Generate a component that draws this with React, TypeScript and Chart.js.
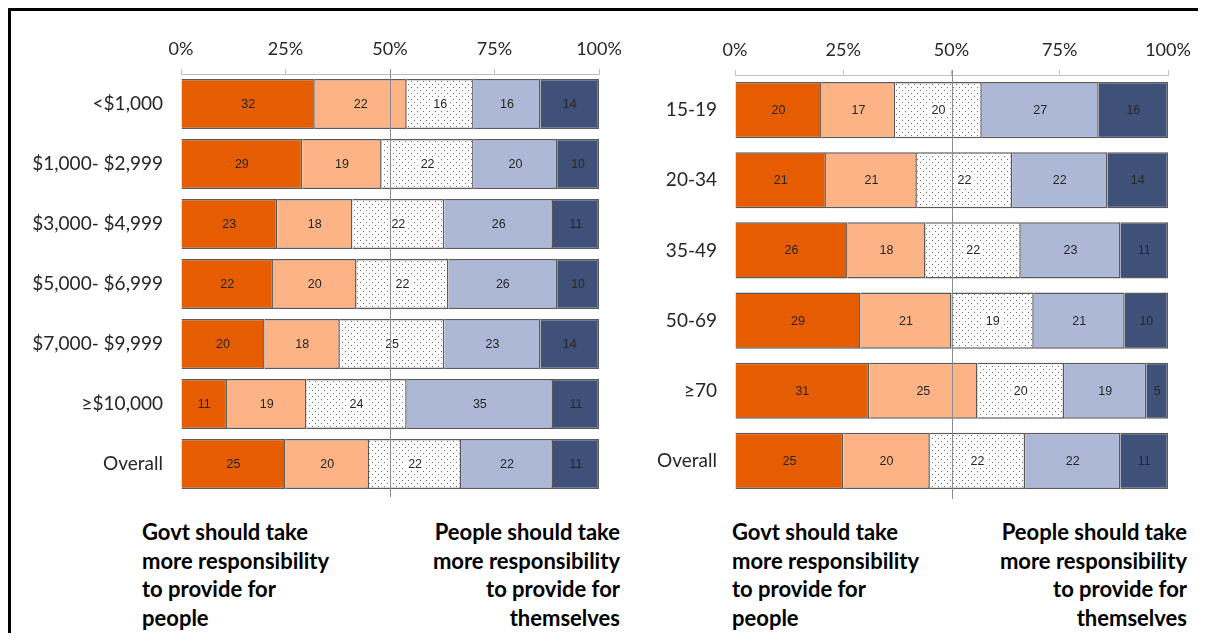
import React, { useEffect, useRef } from "react";
import { Chart, registerables } from "chart.js";

Chart.register(...registerables);

// Household income groups
const incomeLabels = ["<$1,000", "$1,000- $2,999", "$3,000- $4,999", "$5,000- $6,999", "$7,000- $9,999", "≥$10,000", "Overall"];
const incomeGovtMuch = [32, 29, 23, 22, 20, 11, 25];
const incomeGovtSome = [22, 19, 18, 20, 18, 19, 20];
const incomeNeutral = [16, 22, 22, 22, 25, 24, 22];
const incomePeopleSome = [16, 20, 26, 26, 23, 35, 22];
const incomePeopleMuch = [14, 10, 11, 10, 14, 11, 11];

// Age groups
const ageLabels = ["15-19", "20-34", "35-49", "50-69", "≥70", "Overall"];
const ageGovtMuch = [20, 21, 26, 29, 31, 25];
const ageGovtSome = [17, 21, 18, 21, 25, 20];
const ageNeutral = [20, 22, 22, 19, 20, 22];
const agePeopleSome = [27, 22, 23, 21, 19, 22];
const agePeopleMuch = [16, 14, 11, 10, 5, 11];

const xTicks = [0, 25, 50, 75, 100];

const LABEL_FONT = "Lato, 'Open Sans', sans-serif";

function makeDotPattern(): CanvasPattern | string {
  const tile = document.createElement("canvas");
  tile.width = 6;
  tile.height = 6;
  const c = tile.getContext("2d");
  if (!c) return "#ffffff";
  c.fillStyle = "#ffffff";
  c.fillRect(0, 0, 6, 6);
  c.fillStyle = "#6b6b6b";
  c.fillRect(1, 1, 1, 1);
  c.fillRect(4, 4, 1, 1);
  const ctx = document.createElement("canvas").getContext("2d");
  return (ctx && ctx.createPattern(tile, "repeat")) || "#ffffff";
}

const valueLabelPlugin = {
  id: "valueLabels",
  afterDatasetsDraw(chart: any) {
    const ctx = chart.ctx;
    ctx.save();
    ctx.font = "12.5px 'Liberation Sans', Arial, sans-serif";
    ctx.textAlign = "center";
    ctx.textBaseline = "middle";
    chart.data.datasets.forEach((ds: any, di: number) => {
      const meta = chart.getDatasetMeta(di);
      meta.data.forEach((el: any, i: number) => {
        const v = ds.data[i];
        const cx = (el.x + el.base) / 2;
        const cy = el.y;
        const txt = String(v);
        if (ds.clearBehindLabel) {
          const w = ctx.measureText(txt).width + 6;
          ctx.fillStyle = "#ffffff";
          ctx.fillRect(cx - w / 2, cy - 7, w, 14);
        }
        ctx.fillStyle = "#262626";
        ctx.fillText(txt, cx, cy + 0.5);
      });
    });
    ctx.restore();
  },
};

const midLinePlugin = {
  id: "midLine",
  afterDraw(chart: any) {
    const ctx = chart.ctx;
    const x = Math.round(chart.scales.x.getPixelForValue(50)) + 0.5;
    ctx.save();
    ctx.strokeStyle = "#8c8c8c";
    ctx.lineWidth = 1;
    ctx.beginPath();
    ctx.moveTo(x, chart.chartArea.top - 5);
    ctx.lineTo(x, chart.chartArea.bottom + 3);
    ctx.stroke();
    ctx.restore();
  },
};

interface PanelProps {
  labels: string[];
  series: number[][];
  yWidth: number;
  padRight: number;
  padBottom: number;
  xHeight: number;
  barPct: number;
  width: number;
  height: number;
  left: number;
  top: number;
}

function Panel(p: PanelProps) {
  const ref = useRef<HTMLCanvasElement | null>(null);
  useEffect(() => {
    if (!ref.current) return;
    const dots = makeDotPattern();
    const fills = ["#e65c00", "#fcb385", dots, "#acb8d5", "#3f5079"];
    const names = ["Govt much more", "Govt more", "Neutral", "People more", "People much more"];
    const chart = new Chart(ref.current, {
      type: "bar",
      data: {
        labels: p.labels,
        datasets: p.series.map((d, i) => ({
          label: names[i],
          data: d,
          backgroundColor: fills[i] as any,
          borderColor: "#595959",
          borderWidth: 1.5,
          barPercentage: p.barPct,
          categoryPercentage: 1,
          clearBehindLabel: i === 2,
        })) as any,
      },
      options: {
        indexAxis: "y",
        animation: false,
        responsive: false,
        maintainAspectRatio: false,
        layout: { padding: { left: 0, right: p.padRight, top: 0, bottom: p.padBottom } },
        plugins: {
          legend: { display: false },
          tooltip: { enabled: false },
        },
        scales: {
          x: {
            type: "linear",
            position: "top",
            stacked: true,
            min: 0,
            max: 100,
            afterBuildTicks: (scale: any) => {
              scale.ticks = xTicks.map((v) => ({ value: v }));
            },
            afterFit: (scale: any) => {
              scale.height = p.xHeight;
            },
            ticks: {
              callback: (v: any) => v + "%",
              font: { family: LABEL_FONT, size: 18 },
              color: "#262626",
              padding: 9,
              maxRotation: 0,
            },
            grid: {
              drawOnChartArea: false,
              drawTicks: true,
              tickLength: 5,
              color: "#bfbfbf",
            },
            border: { display: true, color: "#bfbfbf" },
          },
          y: {
            type: "category",
            stacked: true,
            afterFit: (scale: any) => {
              scale.width = p.yWidth;
            },
            ticks: {
              font: { family: LABEL_FONT, size: 19 },
              color: "#262626",
              padding: 0,
            },
            // invisible tick marks keep the labels clear of the bars
            grid: {
              display: true,
              drawOnChartArea: false,
              drawTicks: true,
              tickLength: 18,
              color: "rgba(0,0,0,0)",
            },
            border: { display: false },
          },
        },
      } as any,
      plugins: [valueLabelPlugin, midLinePlugin],
    });
    return () => chart.destroy();
  }, []);
  return (
    <canvas
      ref={ref}
      width={p.width}
      height={p.height}
      style={{ position: "absolute", left: p.left, top: p.top, width: p.width, height: p.height }}
    />
  );
}

const noteStyle: React.CSSProperties = {
  position: "absolute",
  top: 510,
  fontFamily: LABEL_FONT,
  fontWeight: 700,
  fontSize: 22,
  lineHeight: "28.5px",
  color: "#000000",
  whiteSpace: "nowrap",
};

export default function App() {
  useEffect(() => {
    document.documentElement.style.overflow = "hidden";
    document.body.style.overflow = "hidden";
  }, []);
  return (
    <div style={{ position: "relative", width: 1190, height: 625 }}>
      <div
        style={{
          position: "absolute",
          left: 0,
          top: 0,
          width: 1198,
          height: 633,
          borderTop: "3px solid #000",
          borderLeft: "3px solid #000",
          boxSizing: "border-box",
        }}
      />
      <Panel
        labels={incomeLabels}
        series={[incomeGovtMuch, incomeGovtSome, incomeNeutral, incomePeopleSome, incomePeopleMuch]}
        yWidth={161}
        padRight={41}
        padBottom={16}
        xHeight={54}
        barPct={0.833}
        width={620}
        height={490}
        left={12}
        top={12}
      />
      <Panel
        labels={ageLabels}
        series={[ageGovtMuch, ageGovtSome, ageNeutral, agePeopleSome, agePeopleMuch]}
        yWidth={95}
        padRight={32}
        padBottom={14}
        xHeight={55}
        barPct={0.8}
        width={560}
        height={490}
        left={632}
        top={12}
      />
      <div style={{ ...noteStyle, left: 134, textAlign: "left" }}>
        Govt should take
        <br />
        more responsibility
        <br />
        to provide for
        <br />
        people
      </div>
      <div style={{ ...noteStyle, right: 1190 - 612, textAlign: "right" }}>
        People should take
        <br />
        more responsibility
        <br />
        to provide for
        <br />
        themselves
      </div>
      <div style={{ ...noteStyle, left: 724, textAlign: "left" }}>
        Govt should take
        <br />
        more responsibility
        <br />
        to provide for
        <br />
        people
      </div>
      <div style={{ ...noteStyle, right: 1190 - 1179, textAlign: "right" }}>
        People should take
        <br />
        more responsibility
        <br />
        to provide for
        <br />
        themselves
      </div>
    </div>
  );
}
